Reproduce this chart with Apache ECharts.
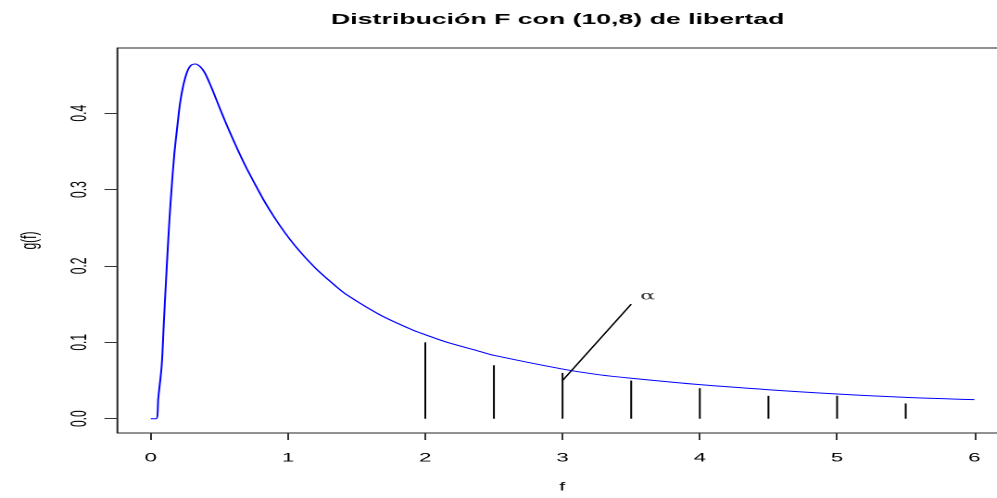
<!DOCTYPE html>
<html>
<head>
<meta charset="utf-8">
<script src="https://cdn.jsdelivr.net/npm/echarts@6/dist/echarts.min.js"></script>
<style>
  html, body { margin: 0; padding: 0; background: #fff; overflow: hidden; width: 997px; height: 498px; }
  #frame { width: 997px; height: 498px; overflow: hidden; position: relative; }
  /* the reference is a narrow plot stretched sideways, so draw narrow and stretch */
  #chart { position: absolute; left: 0; top: 0; width: 548px; height: 498px; transform: scaleX(1.853); transform-origin: 0 0; }
</style>
</head>
<body>
<div id="frame"><div id="chart"></div></div>
<script>
// density curve
const fValues = [0, 0.04, 0.055, 0.08, 0.097, 0.116, 0.136, 0.153, 0.172, 0.194, 0.213, 0.238, 0.267, 0.295, 0.324, 0.36, 0.395, 0.444, 0.492, 0.541, 0.614, 0.687, 0.76, 0.832, 0.905, 0.978, 1.051, 1.124, 1.221, 1.342, 1.43, 1.67, 1.91, 2, 2.16, 2.4, 2.5, 3, 3.27, 3.5, 4, 4.5, 5, 5.5, 6];
const gValues = [0, 0, 0.027, 0.07, 0.131, 0.196, 0.26, 0.304, 0.347, 0.383, 0.412, 0.437, 0.455, 0.463, 0.4645, 0.461, 0.4526, 0.433, 0.4115, 0.39, 0.36, 0.332, 0.307, 0.2835, 0.2625, 0.2435, 0.2265, 0.2115, 0.1935, 0.1745, 0.162, 0.136, 0.116, 0.11, 0.1, 0.088, 0.083, 0.065, 0.0575, 0.053, 0.0446, 0.038, 0.0324, 0.028, 0.025];

// vertical segments
const stemX = [2, 2.5, 3, 3.5, 4, 4.5, 5, 5.5];
const stemHeights = [0.1, 0.07, 0.06, 0.05, 0.04, 0.03, 0.03, 0.02];

// alpha pointer
const pointerX = [3, 3.5];
const pointerY = [0.05, 0.15];
const alphaLabel = { x: 3.62, y: 0.16, text: "α" };

const xTicks = [0, 1, 2, 3, 4, 5, 6];
const yTicks = [0, 0.1, 0.2, 0.3, 0.4];

const font = "Liberation Sans, Arial, Helvetica, sans-serif";

const chart = echarts.init(document.getElementById("chart"), null, { devicePixelRatio: 2 });

chart.setOption({
  animation: false,
  title: {
    text: "Distribución F con (10,8) de libertad",
    left: 296,
    top: 8,
    textAlign: "center",
    textStyle: {
      fontFamily: font,
      fontWeight: "bold",
      fontSize: 14.4,
      color: "#000",
    },
  },
  grid: {
    left: 63.35,
    right: 4.4,
    top: 48,
    bottom: 61,
    show: true,
    borderColor: "#222",
    borderWidth: 1,
  },
  xAxis: {
    type: "value",
    min: -0.2427,
    max: 6.24,
    axisLine: { show: false, onZero: false },
    splitLine: { show: false },
    axisTick: {
      show: true,
      customValues: xTicks,
      length: 7,
      lineStyle: { color: "#333" },
    },
    axisLabel: {
      customValues: xTicks,
      margin: 19,
      color: "#000",
      fontSize: 12,
      fontFamily: font,
      formatter: (v) => String(v),
    },
    name: "f",
    nameLocation: "middle",
    nameGap: 48,
    nameTextStyle: {
      color: "#000",
      fontSize: 12,
      fontFamily: font,
    },
  },
  yAxis: {
    type: "value",
    min: -0.0187,
    max: 0.4854,
    axisLine: { show: false, onZero: false },
    splitLine: { show: false },
    axisTick: {
      show: true,
      customValues: yTicks,
      length: 7,
      lineStyle: { color: "#333" },
    },
    axisLabel: {
      customValues: yTicks,
      rotate: 90,
      margin: 14,
      color: "#000",
      fontSize: 12,
      fontFamily: font,
      formatter: (v) => v.toFixed(1),
    },
    name: "g(f)",
    nameLocation: "middle",
    nameRotate: 90,
    nameGap: 41,
    nameTextStyle: {
      color: "#000",
      fontSize: 12,
      fontFamily: font,
    },
  },
  series: [
    {
      type: "line",
      data: fValues.map((f, i) => [f, gValues[i]]),
      smooth: 0.3,
      showSymbol: false,
      lineStyle: { color: "#0000ff", width: 1 },
      z: 3,
    },
    {
      type: "custom",
      data: stemX.map((x, i) => [x, stemHeights[i]]),
      renderItem: (params, api) => {
        const p0 = api.coord([api.value(0), 0]);
        const p1 = api.coord([api.value(0), api.value(1)]);
        return {
          type: "line",
          shape: { x1: p0[0], y1: p0[1], x2: p1[0], y2: p1[1] },
          style: { stroke: "#000", lineWidth: 1 },
        };
      },
      z: 2,
    },
    {
      type: "line",
      data: pointerX.map((x, i) => [x, pointerY[i]]),
      showSymbol: false,
      lineStyle: { color: "#000", width: 1 },
      z: 4,
    },
    {
      type: "scatter",
      data: [[alphaLabel.x, alphaLabel.y]],
      symbolSize: 0,
      label: {
        show: true,
        formatter: alphaLabel.text,
        position: "inside",
        color: "#000",
        fontSize: 12,
        fontFamily: "DejaVu Serif, serif",
      },
    },
  ],
});
</script>
</body>
</html>
